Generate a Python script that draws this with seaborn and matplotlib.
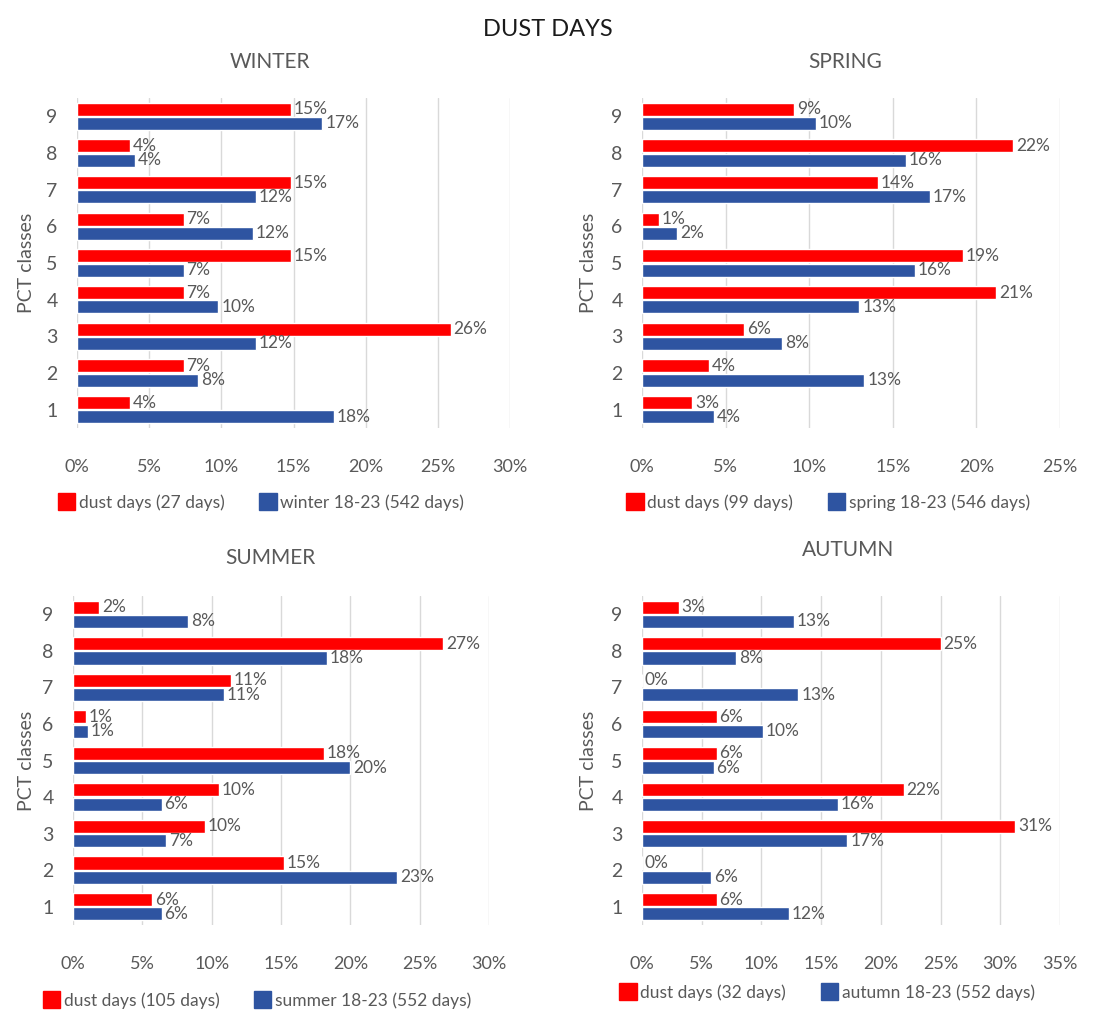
import pandas as pd
import matplotlib
matplotlib.use("Agg")
import matplotlib.pyplot as plt
from matplotlib.patches import Patch
from matplotlib.ticker import FuncFormatter
import seaborn as sns

# PCT classes, listed top to bottom as drawn
classes = ["9", "8", "7", "6", "5", "4", "3", "2", "1"]

# percent of days per class
winter_dust = [14.8, 3.7, 14.8, 7.4, 14.8, 7.4, 25.9, 7.4, 3.7]
winter_all = [17.0, 4.0, 12.4, 12.2, 7.4, 9.8, 12.4, 8.4, 17.8]
spring_dust = [9.1, 22.2, 14.1, 1.0, 19.2, 21.2, 6.1, 4.0, 3.0]
spring_all = [10.4, 15.8, 17.2, 2.1, 16.3, 13.0, 8.4, 13.3, 4.3]
summer_dust = [1.9, 26.7, 11.4, 0.95, 18.1, 10.5, 9.5, 15.2, 5.7]
summer_all = [8.3, 18.3, 10.9, 1.1, 20.0, 6.4, 6.7, 23.4, 6.4]
autumn_dust = [3.1, 25.0, 0.0, 6.25, 6.25, 21.9, 31.25, 0.0, 6.25]
autumn_all = [12.7, 7.9, 13.1, 10.1, 6.0, 16.4, 17.2, 5.8, 12.3]

titles = ["WINTER", "SPRING", "SUMMER", "AUTUMN"]
dust_names = ["dust days (27 days)", "dust days (99 days)",
              "dust days (105 days)", "dust days (32 days)"]
all_names = ["winter 18-23 (542 days)", "spring 18-23 (546 days)",
             "summer 18-23 (552 days)", "autumn 18-23 (552 days)"]
xmax = [30, 25, 30, 35]

RED = "#FF0000"
BLUE = "#2E54A1"
GRAY = "#595959"

sns.set_style("white")
plt.rcParams["font.family"] = ["Lato", "DejaVu Sans"]

W, H = 1104, 1010
fig = plt.figure(figsize=(W / 100, H / 100), dpi=100)

# panel boxes in pixels: left, right(at xmax), top, bottom
boxes = [(77, 510, 98, 428), (642, 1060, 98, 428),
         (73, 489, 596, 925), (642, 1060, 596, 925)]
title_pos = [(270, 62), (845, 62), (270, 558), (848, 550)]
legend_pos = [(261, 502), (828, 502), (257, 1000), (827, 992)]
ylabel_x = [27, 588, 27, 588]

dust_all = [winter_dust, spring_dust, summer_dust, autumn_dust]
base_all = [winter_all, spring_all, summer_all, autumn_all]

fig.text(548 / W, 1 - 30 / H, "DUST DAYS", ha="center", va="center",
         fontsize=17, color="#1a1a1a")

for i in range(4):
    l, r, t, b = boxes[i]
    ax = fig.add_axes([l / W, 1 - b / H, (r - l) / W, (b - t) / H])
    df = pd.DataFrame({
        "cls": classes * 2,
        "val": dust_all[i] + base_all[i],
        "series": [dust_names[i]] * 9 + [all_names[i]] * 9,
    })
    sns.barplot(data=df, y="cls", x="val", hue="series", order=classes,
                hue_order=[dust_names[i], all_names[i]], palette=[RED, BLUE],
                orient="h", width=0.78, gap=0.08, legend=False, ax=ax,
                saturation=1)
    for c in ax.containers:
        ax.bar_label(c, labels=[f"{round(p.get_width())}%" for p in c],
                     padding=2, fontsize=12.5, color=GRAY)
    ax.set_xlim(0, xmax[i])
    ax.set_xticks(range(0, xmax[i] + 1, 5))
    ax.xaxis.set_major_formatter(FuncFormatter(lambda v, p: f"{v:.0f}%"))
    ax.grid(axis="x", color="#D9D9D9", linewidth=1)
    ax.set_axisbelow(True)
    for s in ax.spines.values():
        s.set_visible(False)
    ax.tick_params(axis="x", length=0, pad=22, labelsize=13, labelcolor=GRAY)
    ax.tick_params(axis="y", length=0, pad=14, labelsize=14, labelcolor=GRAY)
    ax.set_xlabel("")
    ax.set_ylabel("")
    fig.text(ylabel_x[i] / W, 1 - (t + b) / 2 / H, "PCT classes", rotation=90,
             ha="center", va="center", fontsize=14, color=GRAY)
    tx, ty = title_pos[i]
    fig.text(tx / W, 1 - ty / H, titles[i], ha="center", va="center",
             fontsize=15, color=GRAY)
    lx, ly = legend_pos[i]
    handles = [Patch(color=RED, label=dust_names[i]),
               Patch(color=BLUE, label=all_names[i])]
    fig.legend(handles=handles, loc="center", bbox_to_anchor=(lx / W, 1 - ly / H),
               ncol=2, frameon=False, fontsize=12.5, labelcolor=GRAY,
               handlelength=1.0, handleheight=1.1, handletextpad=0.2,
               columnspacing=2.0)

fig.savefig("out.png", dpi=100)
